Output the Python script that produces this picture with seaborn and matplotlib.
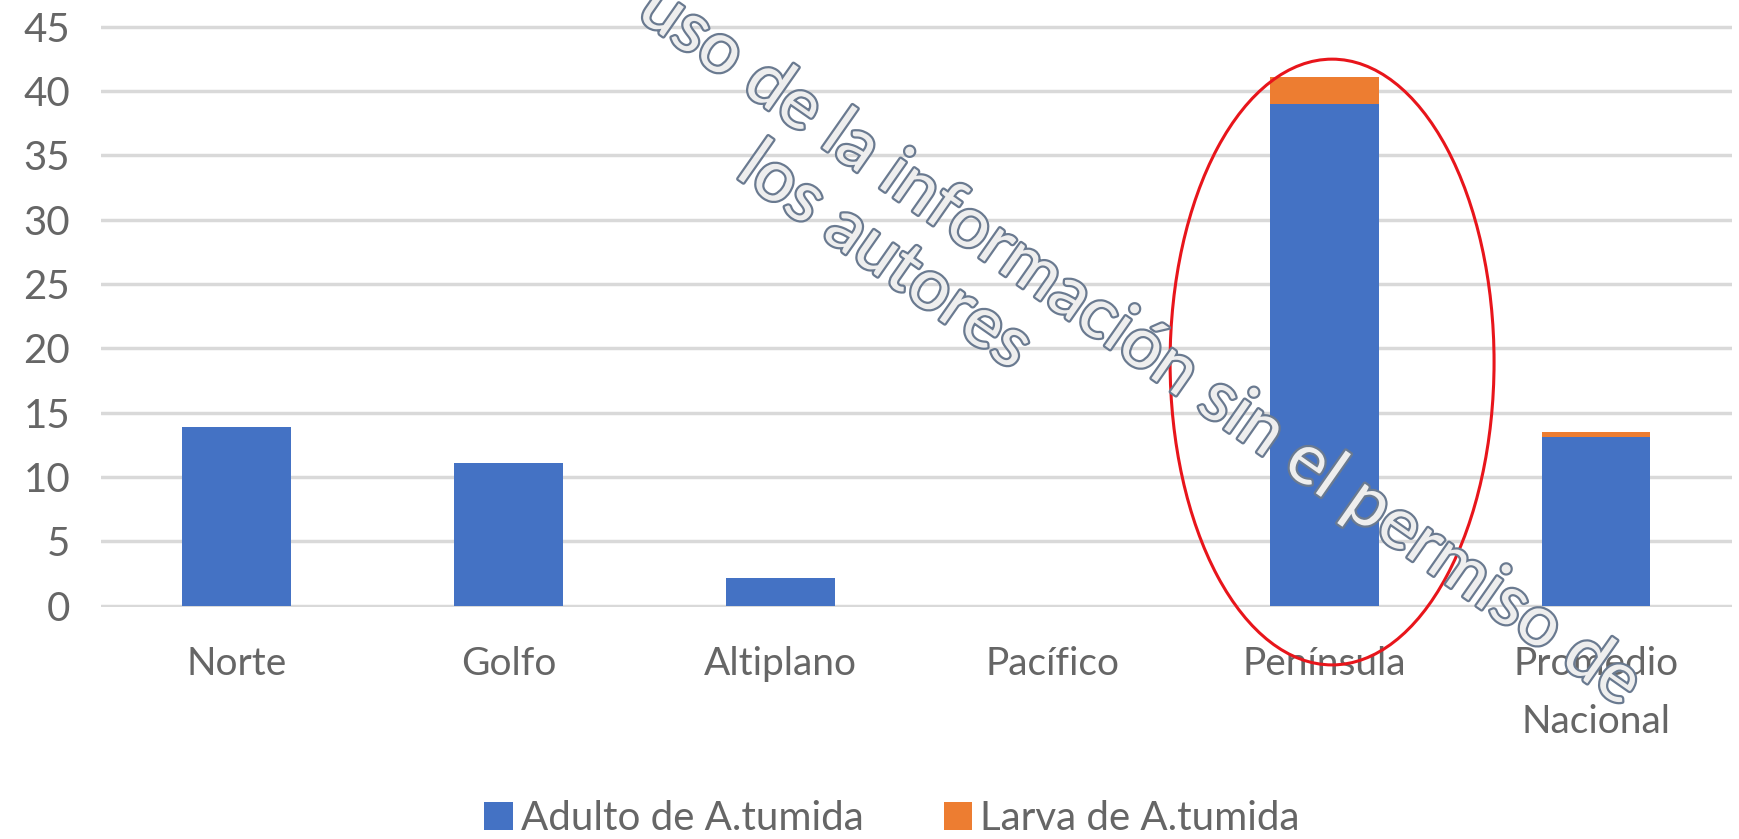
import matplotlib
matplotlib.use("Agg")
import matplotlib.pyplot as plt
import matplotlib.patheffects as pe
from matplotlib.patches import Ellipse, Patch
import pandas as pd
import seaborn as sns

# data
regiones = ["Norte", "Golfo", "Altiplano", "Pacífico", "Península", "Promedio\nNacional"]
adulto = [13.9, 11.1, 2.1, 0.0, 39.0, 13.1]
larva = [0.0, 0.0, 0.0, 0.0, 2.1, 0.4]
series = ["Adulto de A.tumida", "Larva de A.tumida"]
colores = ["#4472C4", "#ED7D31"]
y_ticks = [0, 5, 10, 15, 20, 25, 30, 35, 40, 45]
marca_agua = ["uso de la información sin el permiso de", "los autores"]

sns.set_theme(style="white")
plt.rcParams["font.family"] = ["Lato", "DejaVu Sans"]
GRIS = "#666666"

df = pd.DataFrame({"region": regiones, "adulto": adulto, "larva": larva})
df["total"] = df["adulto"] + df["larva"]

fig = plt.figure(figsize=(17.39, 8.39), dpi=100)
ax = fig.add_axes([0.058, 0.2760, 0.938, 0.6945])

# stacked: total (orange) behind, adult (blue) in front
sns.barplot(data=df, x="region", y="total", color=colores[1], width=0.4,
            saturation=1, linewidth=0, ax=ax, zorder=2)
sns.barplot(data=df, x="region", y="adulto", color=colores[0], width=0.4,
            saturation=1, linewidth=0, ax=ax, zorder=3)

ax.set_xlim(-0.5, len(regiones) - 0.5)
ax.set_ylim(-0.15, 45.15)
ax.set_yticks(y_ticks)
ax.yaxis.grid(True, color="#d9d9d9", linewidth=2.5)
ax.set_axisbelow(True)
for s in ax.spines.values():
    s.set_visible(False)
ax.set_xlabel("")
ax.set_ylabel("")
ax.tick_params(axis="y", length=0, pad=22, labelsize=29, labelcolor=GRIS)
ax.tick_params(axis="x", length=0, pad=28, labelsize=28, labelcolor=GRIS)
for lbl in ax.get_xticklabels():
    lbl.set_linespacing(1.75)

handles = [Patch(facecolor=c, edgecolor="none") for c in colores]
fig.legend(handles, series, loc="center", bbox_to_anchor=(0.513, 0.024),
           ncol=2, frameon=False, fontsize=29, labelcolor=GRIS,
           handlelength=0.7, handleheight=0.7, handletextpad=0.2,
           columnspacing=2.0)

# red ellipse annotation
fig.patches.append(Ellipse((0.766, 0.5685), 0.1863, 0.722, transform=fig.transFigure,
                           fill=False, edgecolor="#e8151b", linewidth=2.2, zorder=10))

# outlined watermark
efecto = [pe.withStroke(linewidth=3.2, foreground="#6a7a90")]
fig.text(0.656, 0.588, marca_agua[0], rotation=-35, rotation_mode="anchor",
         ha="center", va="center", fontsize=51, color="#eeeeee",
         path_effects=efecto, zorder=11)
fig.text(0.509, 0.694, marca_agua[1], rotation=-35, rotation_mode="anchor",
         ha="center", va="center", fontsize=51, color="#eeeeee",
         path_effects=efecto, zorder=11)

fig.savefig("out.png", dpi=100)
